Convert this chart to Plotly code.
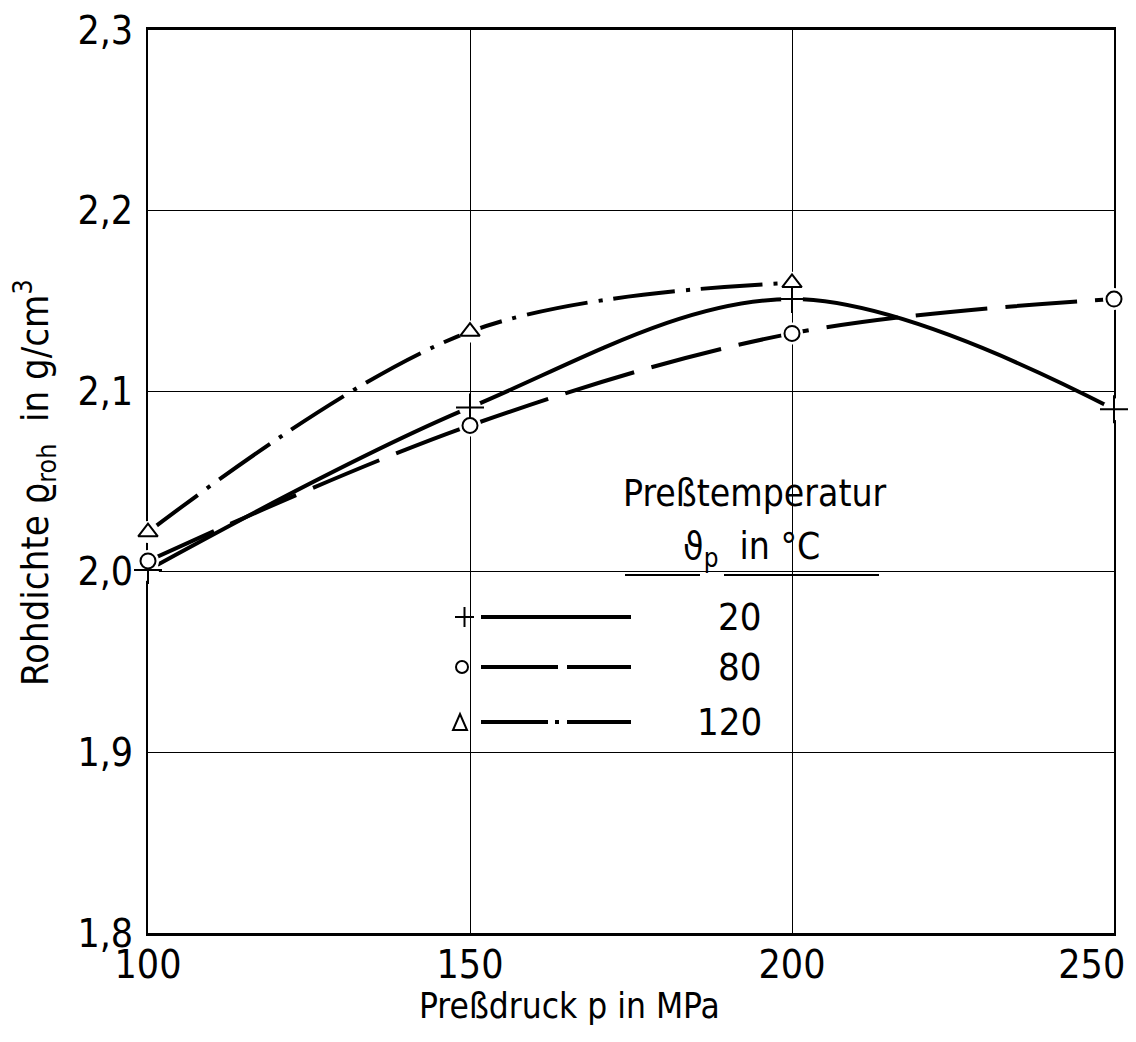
import plotly.graph_objects as go

# ---- data ----
pressure = [100, 150, 200, 250]
rho_20 = [2.001, 2.091, 2.151, 2.090]
rho_80 = [2.006, 2.081, 2.132, 2.151]
pressure_120 = [100, 150, 200]
rho_120 = [2.022, 2.133, 2.160]
temps = ["20", "80", "120"]
x_ticks = [100, 150, 200, 250]
x_ticktext = ["100", "150", "200", "250\u00a0\u00a0\u00a0\u00a0"]
y_ticks = [1.8, 1.9, 2.0, 2.1, 2.2, 2.3]

FONT = "Liberation Sans Narrow, DejaVu Sans Condensed, Roboto Condensed, Liberation Sans, sans-serif"
BODY = 8  # default page margin of the html body
W, H = 1120, 1026
L, R, T, B = 140, 14, 22, 101
PW, PH = W - L - R, H - T - B


def px(x):
    # page pixel -> paper fraction
    return (x - BODY - L) / PW


def py(y):
    return (H - B - (y - BODY)) / PH


fig = go.Figure()

# curves
fig.add_trace(go.Scatter(x=pressure, y=rho_20, mode="lines", line=dict(color="black", width=4, shape="spline", smoothing=1.0)))
fig.add_trace(go.Scatter(x=pressure, y=rho_80, mode="lines", line=dict(color="black", width=4, shape="spline", smoothing=1.0, dash="72px,18px")))
fig.add_trace(go.Scatter(x=pressure_120, y=rho_120, mode="lines", line=dict(color="black", width=4, shape="spline", smoothing=1.0, dash="62px,11px,4px,11px")))

# white halos around markers
fig.add_trace(go.Scatter(x=pressure + pressure + pressure_120, y=rho_20 + rho_80 + rho_120, mode="markers",
                         marker=dict(symbol="circle", size=22, color="white", line=dict(width=0)), cliponaxis=False))

# markers
fig.add_trace(go.Scatter(x=pressure, y=rho_20, mode="markers", cliponaxis=False,
                         marker=dict(symbol="cross-thin-open", size=20, color="black", line=dict(width=2, color="black"))))
fig.add_trace(go.Scatter(x=pressure, y=rho_80, mode="markers", cliponaxis=False,
                         marker=dict(symbol="circle", size=15, color="white", line=dict(width=2, color="black"))))
fig.add_trace(go.Scatter(x=pressure_120, y=rho_120, mode="markers", cliponaxis=False,
                         marker=dict(symbol="triangle-up", size=17, color="white", line=dict(width=2, color="black"))))

shapes = []
# blank area behind the legend (hides gridlines)
shapes.append(dict(type="rect", xref="paper", yref="paper", x0=px(450), x1=px(933), y0=py(458), y1=py(750),
                   fillcolor="white", line=dict(width=0), layer="between"))
# underline of legend header
for a, b in [(625, 700), (724, 879)]:
    shapes.append(dict(type="line", xref="paper", yref="paper", x0=px(a), x1=px(b), y0=py(575), y1=py(575),
                       line=dict(color="black", width=2)))
# legend samples
ys = [617, 667, 722]
dashes = ["solid", "77px,9px", "67px,7px,4px,8px"]
for yy, d in zip(ys, dashes):
    shapes.append(dict(type="line", xref="paper", yref="paper", x0=px(481), x1=px(631), y0=py(yy), y1=py(yy),
                       line=dict(color="black", width=4, dash=d)))
# plus symbol
shapes.append(dict(type="line", xref="paper", yref="paper", x0=px(455), x1=px(474), y0=py(617), y1=py(617), line=dict(color="black", width=2)))
shapes.append(dict(type="line", xref="paper", yref="paper", x0=px(464.5), x1=px(464.5), y0=py(607), y1=py(627), line=dict(color="black", width=2)))
# circle symbol
shapes.append(dict(type="circle", xref="paper", yref="paper", x0=px(456), x1=px(468), y0=py(661), y1=py(673), line=dict(color="black", width=2)))
# triangle symbol
shapes.append(dict(type="path", xref="paper", yref="paper",
                   path=f"M {px(453)},{py(730)} L {px(467)},{py(730)} L {px(460)},{py(714)} Z",
                   line=dict(color="black", width=2)))

annotations = [
    dict(text="Preßdruck p in MPa", x=px(569), y=py(1006), xref="paper", yref="paper", showarrow=False,
         xanchor="center", yanchor="middle", font=dict(size=35, color="black", family=FONT)),
    dict(text="Rohdichte ϱ<sub>roh</sub>  in g/cm<sup>3</sup>", x=px(34), y=py(483), xref="paper", yref="paper",
         showarrow=False, textangle=-90, xanchor="center", yanchor="middle", font=dict(size=38, color="black", family=FONT)),
    dict(text="Preßtemperatur", x=px(755), y=py(494), xref="paper", yref="paper", showarrow=False,
         xanchor="center", yanchor="middle", font=dict(size=37, color="black", family=FONT)),
    dict(text="ϑ<sub>p</sub>  in °C", x=px(751), y=py(549), xref="paper", yref="paper", showarrow=False,
         xanchor="center", yanchor="middle", font=dict(size=37, color="black", family=FONT)),
]
for yy, t in zip(ys, temps):
    annotations.append(dict(text=t, x=px(764), y=py(yy), xref="paper", yref="paper", showarrow=False,
                            xanchor="right", yanchor="middle", font=dict(size=38, color="black", family=FONT)))

fig.update_layout(
    width=W, height=H,
    margin=dict(l=L, r=R, t=T, b=B, autoexpand=False),
    paper_bgcolor="white", plot_bgcolor="white",
    showlegend=False,
    shapes=shapes,
    annotations=annotations,
    font=dict(family=FONT, color="black"),
)
fig.update_xaxes(range=[100, 250], tickvals=x_ticks, ticktext=x_ticktext,
                 showgrid=True, gridcolor="black", gridwidth=1, zeroline=False,
                 showline=True, mirror=True, linecolor="black", linewidth=2.5,
                 ticks="", ticklabelstandoff=-5, ticklabeloverflow="allow",
                 tickfont=dict(size=39, family=FONT, color="black"),
                 layer="below traces", automargin=False)
fig.update_yaxes(range=[1.8, 2.3], tickvals=y_ticks, ticktext=[f"{v:.1f}".replace(".", ",") for v in y_ticks],
                 showgrid=True, gridcolor="black", gridwidth=1, zeroline=False,
                 showline=True, mirror=True, linecolor="black", linewidth=2,
                 ticks="", ticklabelstandoff=5, ticklabeloverflow="allow",
                 tickfont=dict(size=39, family=FONT, color="black"),
                 layer="below traces", automargin=False)

fig.write_html("out.html")
